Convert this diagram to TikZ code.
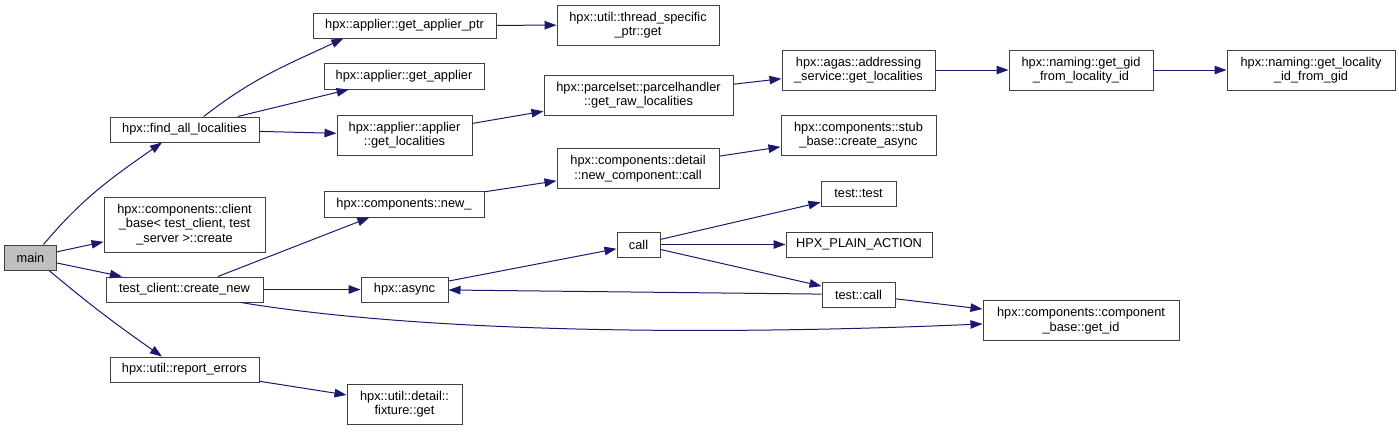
\documentclass[tikz,border=0pt]{standalone}
\usepackage{fontspec}
\setmainfont{Liberation Sans}
\usetikzlibrary{arrows.meta}
\definecolor{edgecol}{HTML}{191970}
\definecolor{boxcol}{HTML}{404040}
\definecolor{mainfill}{HTML}{BFBFBF}
\begin{document}
\begin{tikzpicture}[x=1bp,y=1bp,
  fn/.style={draw=boxcol, line width=1bp, fill=white, inner sep=0pt, align=center,
    font=\fontsize{12.8bp}{14.5bp}\selectfont, text=black},
  edgearrow/.style={draw=edgecol, line width=1bp, -{Triangle[length=12bp,width=8.5bp]}}]
\path[use as bounding box] (0,0) rectangle (1399,-431);

% column 0
\node[fn, fill=mainfill, minimum width=51bp, minimum height=25bp] (main) at (30.5,-257.5) {main};
% column 1
\node[fn, minimum width=149bp, minimum height=25bp] (fal) at (184.5,-129.5) {hpx::find\_all\_localities};
\node[fn, minimum width=161bp, minimum height=55bp] (cb) at (184.5,-224.5) {hpx::components::client\\\_base< test\_client, test\\\_server >::create};
\node[fn, minimum width=157bp, minimum height=25bp] (cn) at (184.5,-289.5) {test\_client::create\_new};
\node[fn, minimum width=149bp, minimum height=25bp] (re) at (184.5,-369.5) {hpx::util::report\_errors};
% column 2
\node[fn, minimum width=183bp, minimum height=25bp] (gap) at (404.5,-25.5) {hpx::applier::get\_applier\_ptr};
\node[fn, minimum width=160bp, minimum height=26bp] (ga) at (404,-76) {hpx::applier::get\_applier};
\node[fn, minimum width=135bp, minimum height=40bp] (agl) at (404.5,-135) {hpx::applier::applier\\::get\_localities};
\node[fn, minimum width=160bp, minimum height=26bp] (new) at (404,-204) {hpx::components::new\_};
\node[fn, minimum width=87bp, minimum height=25bp] (async) at (404.5,-289.5) {hpx::async};
\node[fn, minimum width=115bp, minimum height=40bp] (fix) at (404.5,-404) {hpx::util::detail::\\fixture::get};
% column 3
\node[fn, minimum width=162bp, minimum height=40bp] (tsp) at (638,-25) {hpx::util::thread\_specific\\\_ptr::get};
\node[fn, minimum width=189bp, minimum height=40bp] (ph) at (638.5,-95) {hpx::parcelset::parcelhandler\\::get\_raw\_localities};
\node[fn, minimum width=162bp, minimum height=40bp] (ncc) at (638,-168.5) {hpx::components::detail\\::new\_component::call};
\node[fn, minimum width=43bp, minimum height=25bp] (ncall) at (638.5,-244.5) {call};
% column 4
\node[fn, minimum width=153bp, minimum height=40bp] (as) at (858.5,-70) {hpx::agas::addressing\\\_service::get\_localities};
\node[fn, minimum width=155bp, minimum height=40bp] (stub) at (858.5,-135) {hpx::components::stub\\\_base::create\_async};
\node[fn, minimum width=75bp, minimum height=25bp] (tt) at (858.5,-193.5) {test::test};
\node[fn, minimum width=146bp, minimum height=25bp] (hpa) at (859,-244.5) {HPX\_PLAIN\_ACTION};
\node[fn, minimum width=73bp, minimum height=25bp] (tc) at (858.5,-294.5) {test::call};
% column 5
\node[fn, minimum width=144bp, minimum height=40bp] (gid) at (1081,-70) {hpx::naming::get\_gid\\\_from\_locality\_id};
\node[fn, minimum width=196bp, minimum height=40bp] (getid) at (1081,-320.5) {hpx::components::component\\\_base::get\_id};
% column 6
\node[fn, minimum width=168bp, minimum height=40bp] (glid) at (1311,-70) {hpx::naming::get\_locality\\\_id\_from\_gid};

% edges
\draw[edgearrow] (main.45) to[out=50,in=215] (fal.210);
\draw[edgearrow] (main) -- (cb);
\draw[edgearrow] (main) -- (cn);
\draw[edgearrow] (main.-35) to[out=-40,in=145] (re.150);
\draw[edgearrow] (fal.34) to[out=38,in=205] (gap.192);
\draw[edgearrow] (fal) -- (ga);
\draw[edgearrow] (fal) -- (agl);
\draw[edgearrow] (gap) -- (tsp);
\draw[edgearrow] (agl) -- (ph);
\draw[edgearrow] (ph) -- (as);
\draw[edgearrow] (as) -- (gid);
\draw[edgearrow] (gid) -- (glid);
\draw[edgearrow] (new) -- (ncc);
\draw[edgearrow] (ncc) -- (stub);
\draw[edgearrow] (cn) -- (new);
\draw[edgearrow] (cn) -- (async);
\draw[edgearrow] (cn.-13) .. controls (420,-332) and (700,-336) .. (getid.182);
\draw[edgearrow] (async) -- (ncall);
\draw[edgearrow] (ncall) -- (tt);
\draw[edgearrow] (ncall) -- (hpa);
\draw[edgearrow] (ncall) -- (tc);
\draw[edgearrow] (tc) -- (async);
\draw[edgearrow] (tc) -- (getid);
\draw[edgearrow] (re) -- (fix);
\end{tikzpicture}
\end{document}
